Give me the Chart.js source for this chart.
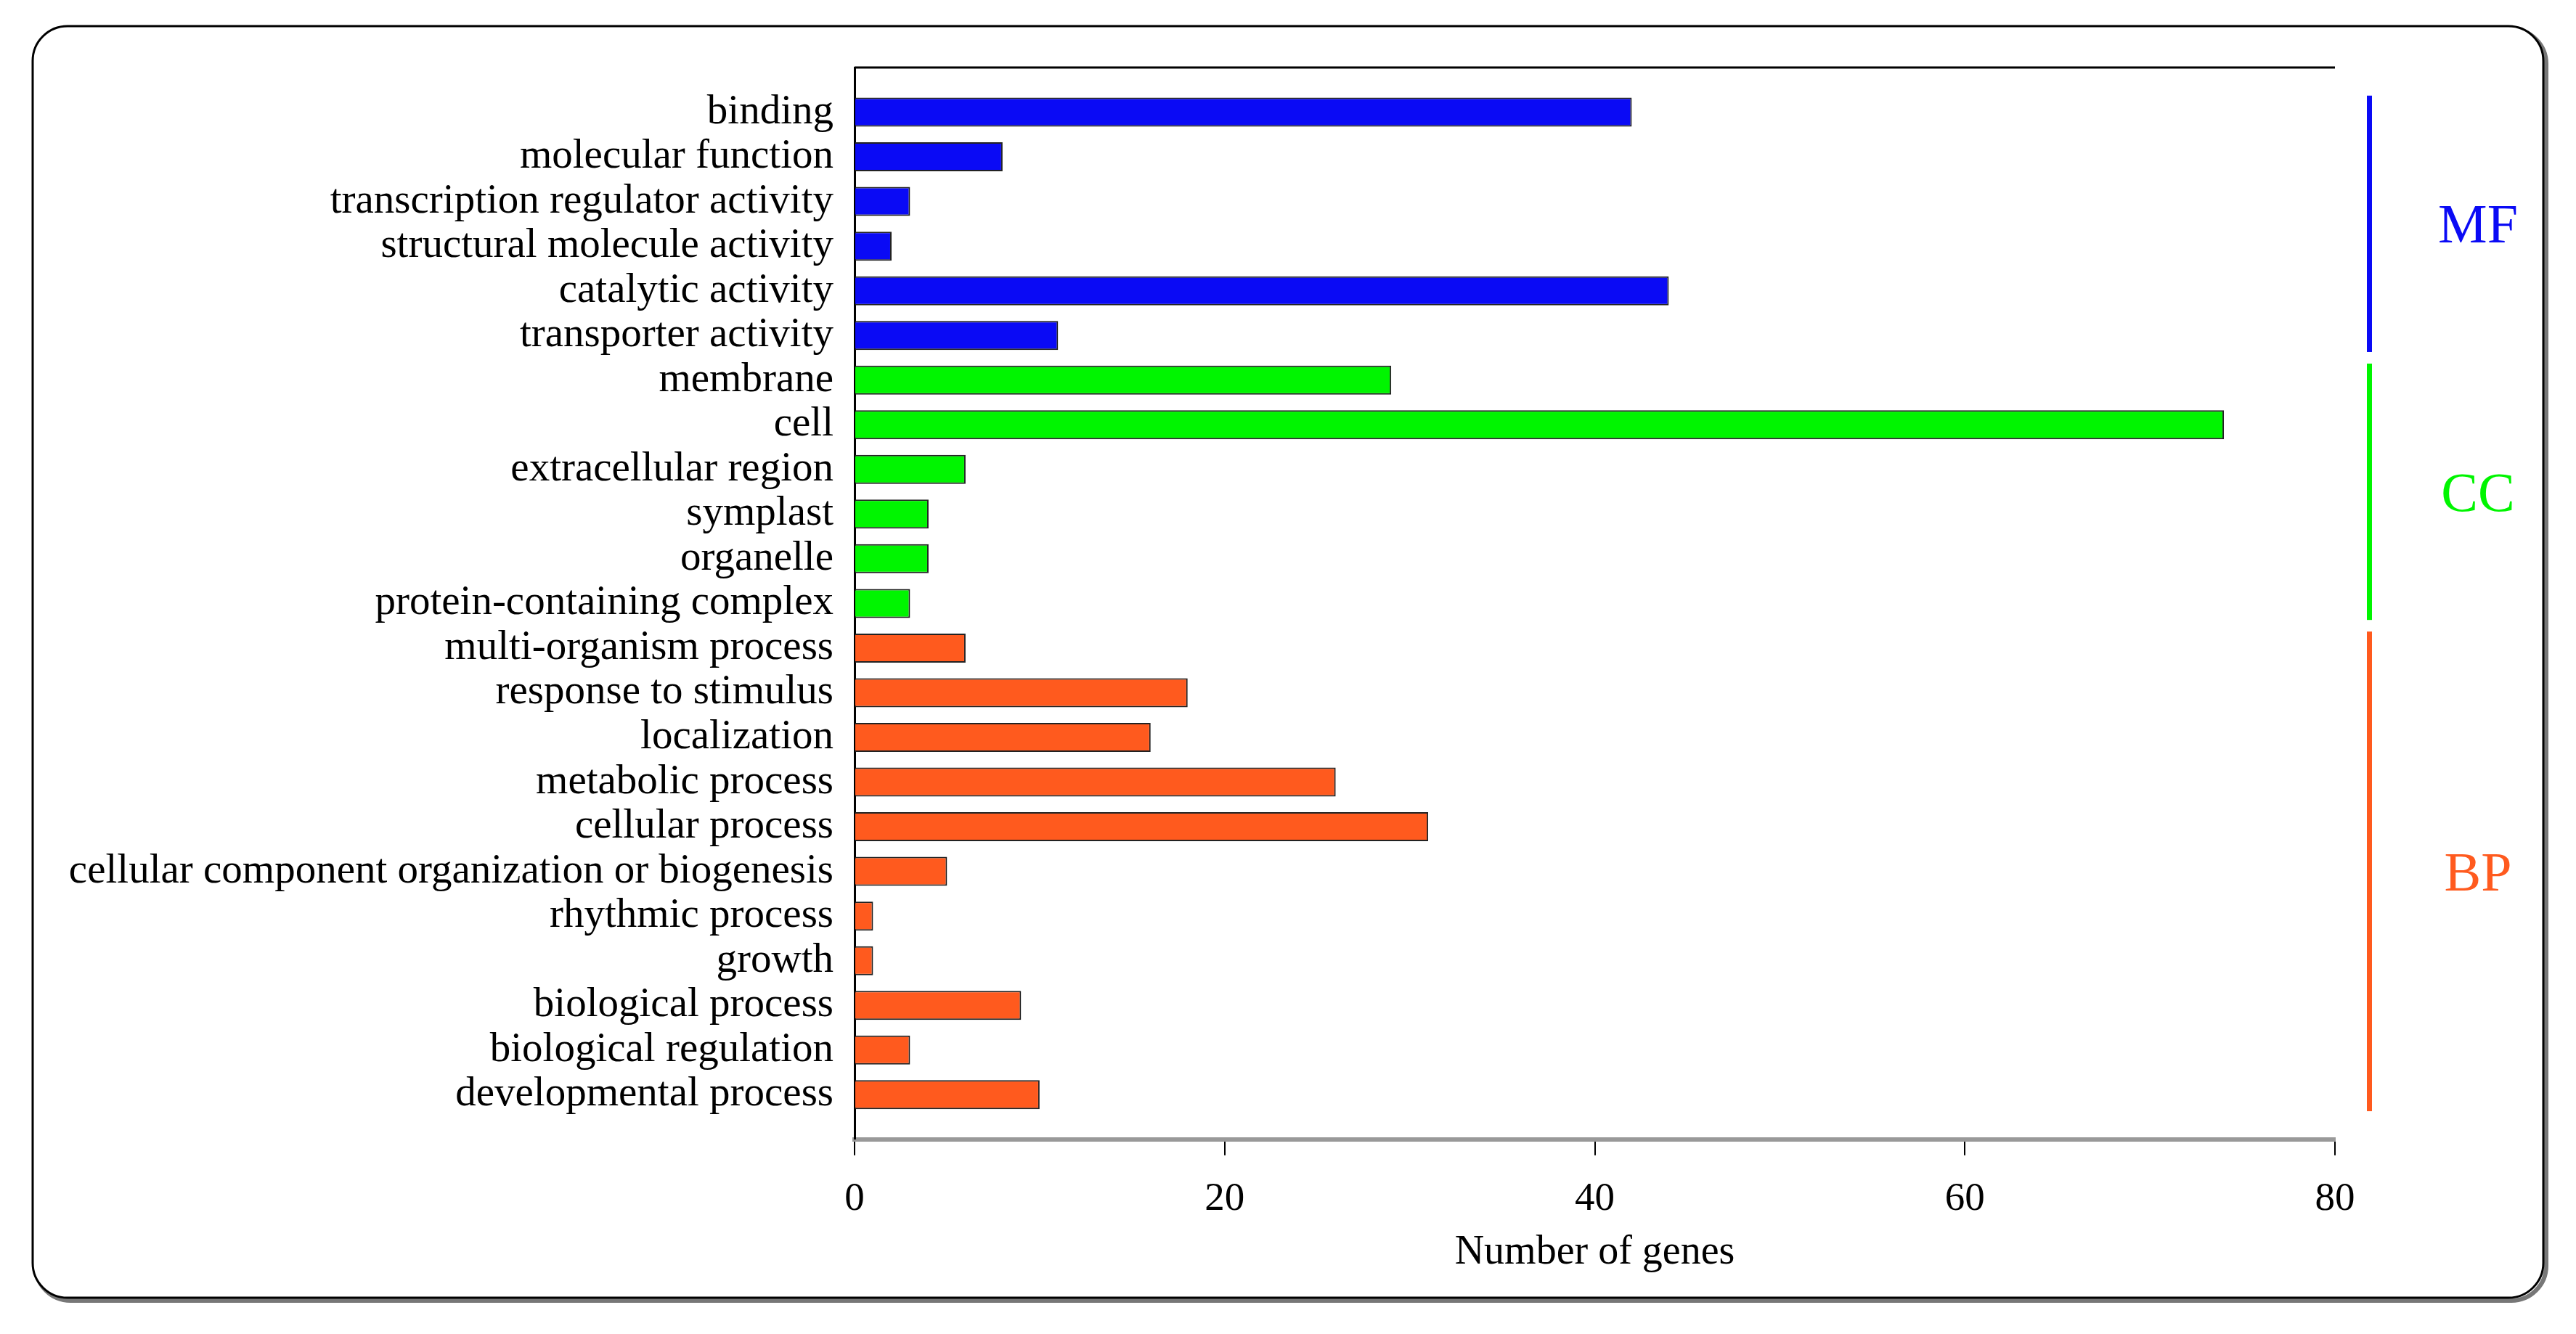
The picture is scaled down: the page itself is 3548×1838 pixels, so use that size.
<!DOCTYPE html>
<html>
<head>
<meta charset="utf-8">
<script src="https://cdn.jsdelivr.net/npm/chart.js@4/dist/chart.umd.min.js"></script>
<style>
  html, body { margin: 0; padding: 0; background: #fff; }
  #wrap { width: 3548px; height: 1838px; }
</style>
</head>
<body>
<div id="wrap"><canvas id="goChart" width="3548" height="1838"></canvas></div>
<script>
const categories = [
  "binding", "molecular function", "transcription regulator activity",
  "structural molecule activity", "catalytic activity", "transporter activity",
  "membrane", "cell", "extracellular region", "symplast", "organelle",
  "protein-containing complex",
  "multi-organism process", "response to stimulus", "localization",
  "metabolic process", "cellular process",
  "cellular component organization or biogenesis", "rhythmic process",
  "growth", "biological process", "biological regulation", "developmental process"
];
const geneCounts = [42, 8, 3, 2, 44, 11, 29, 74, 6, 4, 4, 3, 6, 18, 16, 26, 31, 5, 1, 1, 9, 3, 10];
const groupNames = ["MF", "CC", "BP"];
const groupSizes = [6, 6, 11];
const groupColors = ["#0a0af5", "#00f500", "#ff5a1e"];
const xTicks = [0, 20, 40, 60, 80];

// one empty slot above and below, like the original plot
const labels = [""].concat(categories, [""]);
const values = [null].concat(geneCounts, [null]);
const barColors = [null];
groupSizes.forEach((n, g) => { for (let i = 0; i < n; i++) barColors.push(groupColors[g]); });
barColors.push(null);

const framePlugin = {
  id: "framePlugin",
  beforeDraw(chart) {
    const ctx = chart.ctx;
    ctx.save();
    const x = 45, y = 36, w = 3458, h = 1752, r = 48;
    ctx.lineWidth = 6;
    ctx.strokeStyle = "#777";
    ctx.beginPath();
    ctx.roundRect(x + 4, y + 4, w, h, r);
    ctx.stroke();
    ctx.fillStyle = "#fff";
    ctx.beginPath();
    ctx.roundRect(x, y, w, h, r);
    ctx.fill();
    ctx.lineWidth = 3;
    ctx.strokeStyle = "#000";
    ctx.stroke();
    ctx.restore();
  },
  afterDraw(chart) {
    const ctx = chart.ctx;
    const area = chart.chartArea;
    const yScale = chart.scales.y;
    ctx.save();
    // top border of plot
    ctx.strokeStyle = "#000";
    ctx.lineWidth = 3;
    ctx.beginPath();
    ctx.moveTo(area.left, area.top);
    ctx.lineTo(area.right, area.top);
    ctx.stroke();
    // group brackets and names
    const step = yScale.getPixelForValue(2) - yScale.getPixelForValue(1);
    let start = 1;
    groupSizes.forEach((n, g) => {
      const y0 = yScale.getPixelForValue(start) - step * 0.37;
      const y1 = yScale.getPixelForValue(start + n - 1) + step * 0.37;
      ctx.fillStyle = groupColors[g];
      ctx.fillRect(3260, y0, 7, y1 - y0);
      ctx.font = "76px 'Liberation Serif', serif";
      ctx.textAlign = "center";
      ctx.textBaseline = "alphabetic";
      ctx.fillText(groupNames[g], 3413, (y0 + y1) / 2 + 26);
      start += n;
    });
    ctx.restore();
  }
};

const chart = new Chart(document.getElementById("goChart").getContext("2d"), {
  type: "bar",
  data: {
    labels: labels,
    datasets: [{
      data: values,
      backgroundColor: barColors,
      borderColor: "#222",
      borderWidth: 2,
      barPercentage: 0.65,
      categoryPercentage: 1.0
    }]
  },
  options: {
    indexAxis: "y",
    responsive: false,
    animation: false,
    devicePixelRatio: 1,
    layout: { padding: { left: 0, top: 93, right: 332, bottom: 78 } },
    plugins: { legend: { display: false }, tooltip: { enabled: false } },
    scales: {
      x: {
        min: 0,
        max: 80,
        afterBuildTicks: (scale) => { scale.ticks = xTicks.map(v => ({ value: v })); },
        grid: { drawOnChartArea: false, tickLength: 22, color: "#000", lineWidth: 2 },
        border: { color: "#999", width: 6 },
        ticks: { color: "#000", padding: 28, font: { family: "'Liberation Serif', serif", size: 55 } },
        title: {
          display: true,
          text: "Number of genes",
          color: "#000",
          padding: { top: -21, bottom: 0 },
          font: { family: "'Liberation Serif', serif", size: 56 }
        }
      },
      y: {
        offset: false,
        afterFit: (scale) => { scale.width = 1177; },
        grid: { display: false },
        border: { color: "#000", width: 3 },
        ticks: {
          autoSkip: false,
          color: "#000",
          padding: 21,
          font: { family: "'Liberation Serif', serif", size: 57 }
        }
      }
    }
  },
  plugins: [framePlugin]
});
</script>
</body>
</html>
